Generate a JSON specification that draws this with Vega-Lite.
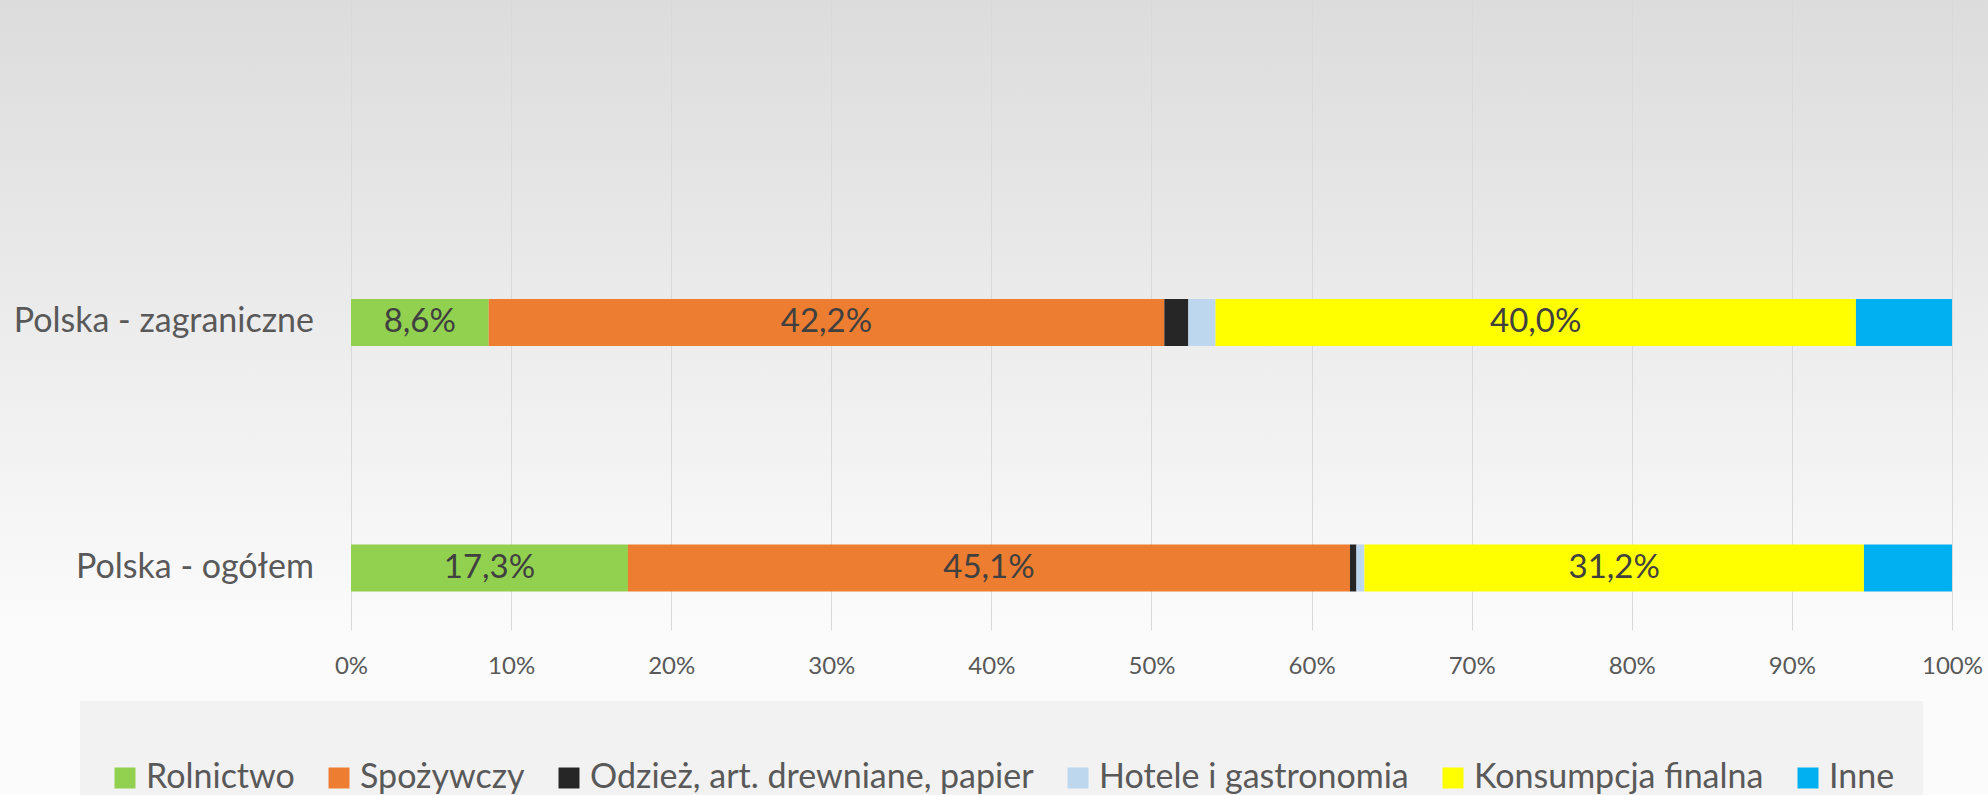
{
  "$schema": "https://vega.github.io/schema/vega-lite/v6.json",
  "width": 1988,
  "height": 630,
  "autosize": {"type": "none"},
  "padding": {"left": 0, "top": 0, "right": 0, "bottom": 165},
  "background": "#fbfbfb",
  "config": {
    "font": "Lato",
    "locale": {"number": {"decimal": ",", "thousands": " ", "grouping": [3], "currency": ["", " zł"]}},
    "view": {
      "stroke": null,
      "fill": {"gradient": "linear", "x1": 0, "y1": 0, "x2": 0, "y2": 1,
        "stops": [{"offset": 0, "color": "#dcdcdc"}, {"offset": 1, "color": "#fbfbfb"}]}
    }
  },
  "data": {
    "values": [
      {"kat": "Polska - zagraniczne", "sektor": "Rolnictwo", "kolejnosc": 1, "udzial": 0.086},
      {"kat": "Polska - zagraniczne", "sektor": "Spożywczy", "kolejnosc": 2, "udzial": 0.422},
      {"kat": "Polska - zagraniczne", "sektor": "Odzież, art. drewniane, papier", "kolejnosc": 3, "udzial": 0.015},
      {"kat": "Polska - zagraniczne", "sektor": "Hotele i gastronomia", "kolejnosc": 4, "udzial": 0.017},
      {"kat": "Polska - zagraniczne", "sektor": "Konsumpcja finalna", "kolejnosc": 5, "udzial": 0.400},
      {"kat": "Polska - zagraniczne", "sektor": "Inne", "kolejnosc": 6, "udzial": 0.060},
      {"kat": "Polska - ogółem", "sektor": "Rolnictwo", "kolejnosc": 1, "udzial": 0.173},
      {"kat": "Polska - ogółem", "sektor": "Spożywczy", "kolejnosc": 2, "udzial": 0.451},
      {"kat": "Polska - ogółem", "sektor": "Odzież, art. drewniane, papier", "kolejnosc": 3, "udzial": 0.004},
      {"kat": "Polska - ogółem", "sektor": "Hotele i gastronomia", "kolejnosc": 4, "udzial": 0.005},
      {"kat": "Polska - ogółem", "sektor": "Konsumpcja finalna", "kolejnosc": 5, "udzial": 0.312},
      {"kat": "Polska - ogółem", "sektor": "Inne", "kolejnosc": 6, "udzial": 0.055}
    ]
  },
  "layer": [
    {
      "mark": {"type": "bar"},
      "encoding": {
        "y": {
          "field": "kat", "type": "nominal",
          "sort": ["Polska - zagraniczne", "Polska - ogółem"],
          "scale": {"paddingInner": 0.80855, "paddingOuter": 0.68737, "align": 0.8859},
          "axis": null
        },
        "x": {
          "field": "udzial", "type": "quantitative", "stack": "normalize",
          "scale": {"domain": [-0.21924, 1.02249], "nice": false, "zero": false},
          "axis": {
            "values": [0, 0.1, 0.2, 0.3, 0.4, 0.5, 0.6, 0.7, 0.8, 0.9, 1],
            "format": ".0%", "title": null, "grid": true, "gridColor": "#d9d9d9", "gridWidth": 1,
            "domain": false, "ticks": false, "labelFontSize": 24, "labelColor": "#595959",
            "labelPadding": 24, "labelFont": "Lato"
          }
        },
        "color": {
          "field": "sektor", "type": "nominal",
          "scale": {
            "domain": ["Rolnictwo", "Spożywczy", "Odzież, art. drewniane, papier", "Hotele i gastronomia", "Konsumpcja finalna", "Inne"],
            "range": ["#92d050", "#ed7d31", "#262626", "#bdd7ee", "#ffff00", "#00b0f0"]
          },
          "legend": {
            "orient": "none", "legendX": 80, "legendY": 701, "direction": "horizontal",
            "title": " ", "titleFontSize": 26, "titlePadding": 6,
            "fillColor": "#f2f2f2", "padding": 28,
            "labelFontSize": 34, "labelColor": "#595959", "labelFont": "Lato", "labelLimit": 800,
            "symbolType": "square", "symbolSize": 440, "symbolStrokeWidth": 0,
            "labelOffset": 4, "columnPadding": 27
          }
        },
        "order": {"field": "kolejnosc", "type": "quantitative"}
      }
    },
    {
      "mark": {"type": "text", "fontSize": 33, "color": "#404040"},
      "encoding": {
        "y": {"field": "kat", "type": "nominal", "sort": ["Polska - zagraniczne", "Polska - ogółem"]},
        "x": {"field": "udzial", "type": "quantitative", "stack": "normalize", "bandPosition": 0.5},
        "detail": {"field": "sektor"},
        "order": {"field": "kolejnosc", "type": "quantitative"},
        "text": {
          "condition": {
            "test": "datum.sektor === 'Rolnictwo' || datum.sektor === 'Spożywczy' || datum.sektor === 'Konsumpcja finalna'",
            "field": "udzial", "type": "quantitative", "format": ".1%"
          },
          "value": ""
        }
      }
    },
    {
      "data": {"values": [{"kat": "Polska - zagraniczne"}, {"kat": "Polska - ogółem"}]},
      "mark": {"type": "text", "align": "right", "fontSize": 34, "color": "#595959"},
      "encoding": {
        "y": {"field": "kat", "type": "nominal", "sort": ["Polska - zagraniczne", "Polska - ogółem"]},
        "x": {"datum": -0.0231, "type": "quantitative"},
        "text": {"field": "kat"}
      }
    }
  ]
}
